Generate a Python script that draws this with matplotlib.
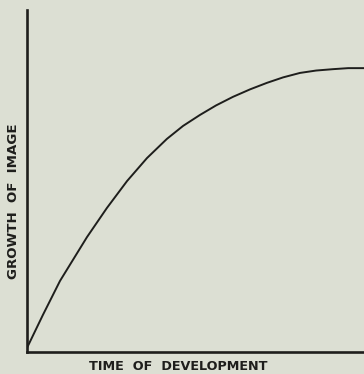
import matplotlib.pyplot as plt

# growth of the developed image against development time (arbitrary units)
time = [0, 0.47, 0.98, 1.78, 2.37, 2.97, 3.56, 4.15, 4.63, 5.13, 5.61, 6.11,
        6.62, 7.12, 7.60, 8.10, 8.58, 9.08, 9.53, 10.0]
growth = [0.12, 1.08, 2.08, 3.36, 4.21, 5.00, 5.67, 6.23, 6.61, 6.93, 7.21, 7.46,
          7.68, 7.87, 8.03, 8.16, 8.23, 8.27, 8.30, 8.30]

paper = '#dcdfd3'
ink = '#1e1e1c'

fig = plt.figure(figsize=(3.64, 3.74), dpi=100, facecolor=paper)
ax = fig.add_axes([27/364, 22/374, 337/364, 342/374], facecolor=paper)

ax.plot(time, growth, color=ink, linewidth=1.4, solid_joinstyle='round')

ax.set_xlim(0, 10)
ax.set_ylim(0, 10)
ax.set_xticks([])
ax.set_yticks([])
for side in ['top', 'right']:
    ax.spines[side].set_visible(False)
for side in ['left', 'bottom']:
    ax.spines[side].set_color(ink)
    ax.spines[side].set_linewidth(1.9)

fig.text(178/364, 1 - 367/374, 'TIME  OF  DEVELOPMENT', ha='center', va='center',
         fontsize=9.2, fontweight='bold', color=ink)
fig.text(14/364, 1 - 201/374, 'GROWTH  OF  IMAGE', ha='center', va='center',
         rotation=90, fontsize=9.6, fontweight='bold', color=ink)

fig.savefig('out.png', dpi=100, facecolor=paper)
